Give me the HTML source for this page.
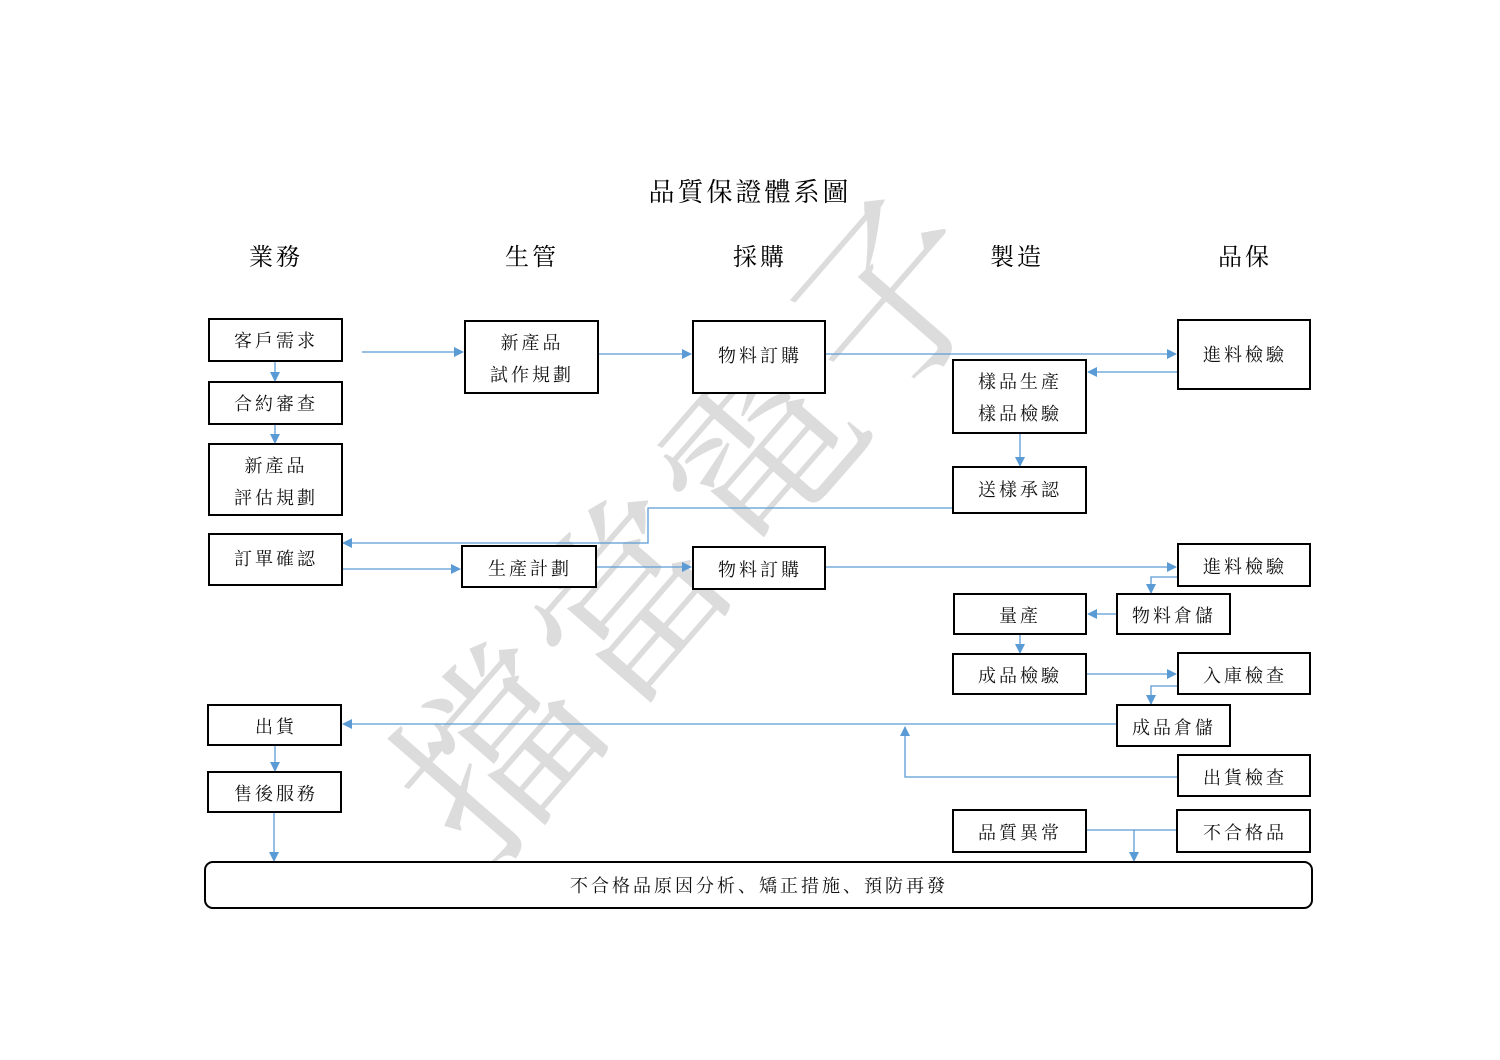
<!DOCTYPE html>
<html><head><meta charset="utf-8"><style>
html,body{margin:0;padding:0;background:#fff;}
svg{display:block;}
text{font-family:"Liberation Serif","Noto Serif CJK SC","Noto Serif CJK TC",serif;}
</style></head><body>
<svg width="1500" height="1060" viewBox="0 0 1500 1060" xmlns="http://www.w3.org/2000/svg">
<defs>
<marker id="a" markerWidth="10" markerHeight="10" refX="9" refY="5" orient="auto" markerUnits="userSpaceOnUse">
<path d="M0,0 L10,5 L0,10 z" fill="#5b9bd5"/></marker>
</defs>
<text x="712" y="535" font-size="192" fill="#dcdcdc" text-anchor="middle" dominant-baseline="middle" transform="rotate(-49 712 535)" style="font-family:'Noto Serif CJK TC','Noto Serif CJK SC',serif" letter-spacing="8">擋當電子</text>

<text x="750" y="201" font-size="26" text-anchor="middle" letter-spacing="3">品質保證體系圖</text>
<g font-size="24" text-anchor="middle" letter-spacing="3">
<text x="276" y="265">業務</text><text x="532" y="265">生管</text><text x="760" y="265">採購</text><text x="1017" y="265">製造</text><text x="1245" y="265">品保</text>
</g>

<g fill="none" stroke="#5b9bd5" stroke-width="1.3">
<path d="M362,352 H463" marker-end="url(#a)"/>
<path d="M598,354 H691" marker-end="url(#a)"/>
<path d="M825,354 H1176" marker-end="url(#a)"/>
<path d="M1178,372 H1088" marker-end="url(#a)"/>
<path d="M275,361 V381" marker-end="url(#a)"/>
<path d="M275,424 V443" marker-end="url(#a)"/>
<path d="M1020,433 V466" marker-end="url(#a)"/>
<path d="M953,508 H648 V543 H343" marker-end="url(#a)"/>
<path d="M342,569 H460" marker-end="url(#a)"/>
<path d="M596,567 H691" marker-end="url(#a)"/>
<path d="M825,567 H1176" marker-end="url(#a)"/>
<path d="M1178,577 H1151 V593" marker-end="url(#a)"/>
<path d="M1117,614 H1088" marker-end="url(#a)"/>
<path d="M1020,634 V653" marker-end="url(#a)"/>
<path d="M1086,674 H1176" marker-end="url(#a)"/>
<path d="M1178,686 H1151 V704" marker-end="url(#a)"/>
<path d="M1117,724 H343" marker-end="url(#a)"/>
<path d="M1178,777 H905 V727" marker-end="url(#a)"/>
<path d="M275,745 V771" marker-end="url(#a)"/>
<path d="M274,812 V861" marker-end="url(#a)"/>
<path d="M1086,830 H1177"/>
<path d="M1134,830 V861" marker-end="url(#a)"/>
</g>

<g fill="#fff" stroke="#000" stroke-width="2">
<rect x="209" y="319" width="133" height="42"/>
<rect x="209" y="382" width="133" height="42"/>
<rect x="209" y="444" width="133" height="71"/>
<rect x="209" y="534" width="133" height="51"/>
<rect x="465" y="321" width="133" height="72"/>
<rect x="693" y="321" width="132" height="72"/>
<rect x="953" y="360" width="133" height="73"/>
<rect x="1178" y="320" width="132" height="69"/>
<rect x="953" y="467" width="133" height="46"/>
<rect x="462" y="546" width="134" height="41"/>
<rect x="693" y="547" width="132" height="42"/>
<rect x="1178" y="544" width="132" height="42"/>
<rect x="954" y="594" width="132" height="40"/>
<rect x="1117" y="594" width="113" height="40"/>
<rect x="953" y="654" width="133" height="40"/>
<rect x="1178" y="653" width="132" height="41"/>
<rect x="1117" y="705" width="113" height="41"/>
<rect x="208" y="705" width="133" height="40"/>
<rect x="208" y="772" width="133" height="40"/>
<rect x="1178" y="755" width="132" height="41"/>
<rect x="953" y="810" width="133" height="42"/>
<rect x="1177" y="810" width="133" height="42"/>
<rect x="205" y="862" width="1107" height="46" rx="8"/>
</g>

<g font-size="18" text-anchor="middle" letter-spacing="3" fill="#111">
<text x="276" y="347">客戶需求</text>
<text x="276" y="410">合約審查</text>
<text x="276" y="472">新產品</text><text x="276" y="504">評估規劃</text>
<text x="276" y="565">訂單確認</text>
<text x="532" y="349">新產品</text><text x="532" y="381">試作規劃</text>
<text x="760" y="362">物料訂購</text>
<text x="1020" y="388">樣品生產</text><text x="1020" y="420">樣品檢驗</text>
<text x="1245" y="361">進料檢驗</text>
<text x="1020" y="496">送樣承認</text>
<text x="530" y="575">生產計劃</text>
<text x="760" y="576">物料訂購</text>
<text x="1245" y="573">進料檢驗</text>
<text x="1020" y="622">量產</text>
<text x="1174" y="622">物料倉儲</text>
<text x="1020" y="682">成品檢驗</text>
<text x="1245" y="682">入庫檢查</text>
<text x="1174" y="734">成品倉儲</text>
<text x="276" y="733">出貨</text>
<text x="276" y="800">售後服務</text>
<text x="1245" y="784">出貨檢查</text>
<text x="1020" y="839">品質異常</text>
<text x="1245" y="839">不合格品</text>
<text x="759" y="892">不合格品原因分析、矯正措施、預防再發</text>
</g>
</svg>
</body></html>
